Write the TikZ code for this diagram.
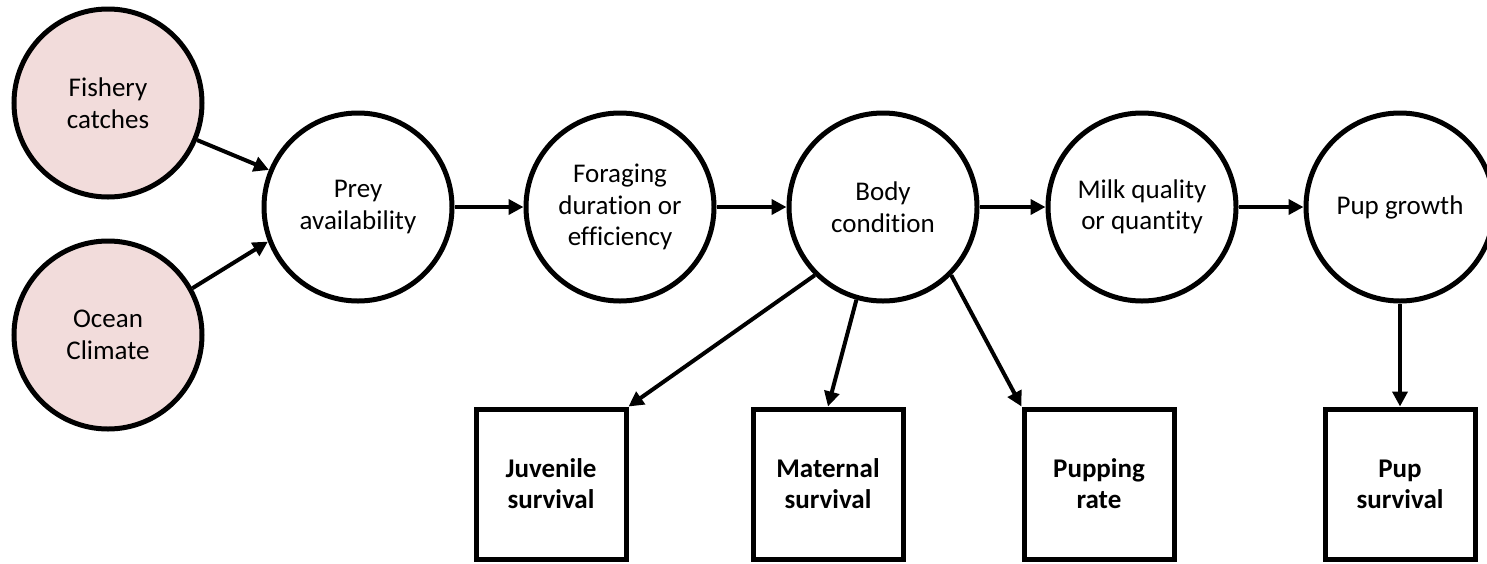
\documentclass[tikz,border=0pt]{standalone}
\usepackage{fontspec}
\setmainfont{Carlito}[Ligatures=NoCommon]
\usetikzlibrary{arrows.meta}
\definecolor{driverfill}{HTML}{F2DCDB}
\begin{document}
\begin{tikzpicture}[x=1pt,y=-1pt,
  every node/.style={font=\fontsize{27}{31.5}\selectfont, align=center, text=black},
  state/.style={circle, draw, line width=5pt, minimum size=188pt, inner sep=0pt, fill=white},
  driver/.style={state, fill=driverfill},
  outcome/.style={rectangle, draw, line width=5pt, minimum width=150pt, minimum height=150pt,
                  inner sep=0pt, font=\fontsize{27}{31}\selectfont\bfseries},
  link/.style={line width=4pt, -{Triangle[length=15pt,width=15pt]}}]
\useasboundingbox (0,0) rectangle (1487,563);

% external drivers
\node[driver] (fish)  at (108,103) {Fishery\\catches};
\node[driver] (ocean) at (108,335) {Ocean\\Climate};

% causal chain
\node[state] (prey)   at (358,207)  {Prey\\availability};
\node[state] (forage) at (620,207)  {Foraging\\duration or\\efficiency};
\node[state] (body)   at (883,207)  {Body\\condition};
\node[state] (milk)   at (1142,207) {Milk quality\\or quantity};
\node[state] (pupg)   at (1400,207) {Pup growth};

% demographic outcomes
\node[outcome] (juv)  at (551,484)  {Juvenile\\survival};
\node[outcome] (mat)  at (828,484)  {Maternal\\survival};
\node[outcome] (rate) at (1099,484) {Pupping\\rate};
\node[outcome] (pups) at (1400,484) {Pup\\survival};

% links
\draw[link] (fish) -- (prey);
\draw[link] (ocean.29) -- (prey.201);
\draw[link] (prey) -- (forage);
\draw[link] (forage) -- (body);
\draw[link] (body) -- (milk);
\draw[link] (milk) -- (pupg);
\draw[link] (body.225) -- (juv.north east);
\draw[link] (body.254) -- (mat.north);
\draw[link] (body.315) -- (rate.north west);
\draw[link] (pupg) -- (pups);
\end{tikzpicture}
\end{document}
